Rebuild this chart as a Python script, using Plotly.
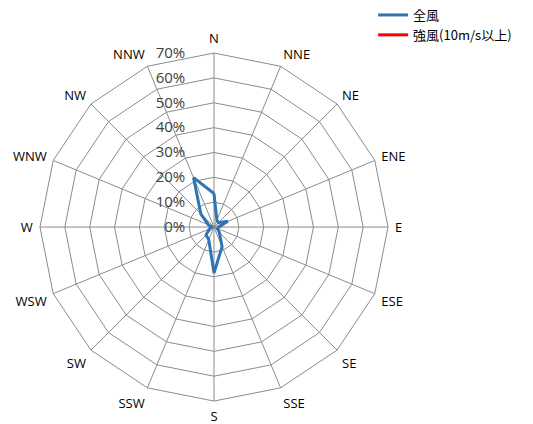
import plotly.graph_objects as go

# 16-point compass directions, clockwise from north
directions = ["N", "NNE", "NE", "ENE", "E", "ESE", "SE", "SSE",
              "S", "SSW", "SW", "WSW", "W", "WNW", "NW", "NNW"]

# Frequency of occurrence (%) per direction
all_wind = [13.5, 3.0, 2.5, 6.0, 2.0, 1.5, 3.0, 8.5,
            18.5, 5.5, 4.5, 2.0, 1.0, 2.5, 7.5, 21.5]
strong_wind = [0, 0, 0, 0, 0, 0, 0, 0,
               0, 0, 0, 0, 0, 0, 0, 0]

radial_ticks = [0, 10, 20, 30, 40, 50, 60, 70]
radial_labels = ["0%", "10%", "20%", "30%", "40%", "50%", "60%", "70%"]

def closed(values):
    return list(values) + [values[0]]

theta = closed(directions)

fig = go.Figure()
fig.add_trace(go.Scatterpolar(
    r=closed(strong_wind), theta=theta, mode="lines",
    name="強風(10m/s以上)", line=dict(color="#ff0000", width=3),
))
fig.add_trace(go.Scatterpolar(
    r=closed(all_wind), theta=theta, mode="lines",
    name="全風", line=dict(color="#2e75b6", width=3),
))

grid_color = "#8c8c8c"
fig.update_layout(
    width=533, height=424,
    margin=dict(l=0, r=0, t=0, b=0),
    paper_bgcolor="white",
    font=dict(family="Open Sans, Noto Sans CJK JP", color="#000000"),
    polar=dict(
        domain=dict(x=[0.075, 0.728], y=[0.054, 0.875]),
        bgcolor="white",
        gridshape="linear",
        angularaxis=dict(
            direction="clockwise", rotation=90,
            categoryorder="array", categoryarray=directions,
            showline=True, linecolor=grid_color, linewidth=1,
            gridcolor=grid_color, gridwidth=1,
            ticks="outside", ticklen=4, tickcolor="rgba(0,0,0,0)",
            tickfont=dict(size=13, color="#000000"),
        ),
        radialaxis=dict(
            range=[0, 70], tickvals=radial_ticks, ticktext=radial_labels,
            angle=90, side="counterclockwise", tickangle=90,
            showline=False, ticks="outside", ticklen=23,
            tickcolor="rgba(0,0,0,0)",
            gridcolor=grid_color, gridwidth=1,
            tickfont=dict(size=15, color="#404040"),
        ),
    ),
    legend=dict(
        x=0.70, y=1.0, xanchor="left", yanchor="top",
        traceorder="reversed",
        font=dict(size=13, family="Noto Sans CJK JP", color="#000000"),
        bgcolor="rgba(0,0,0,0)",
    ),
)

fig.write_html("out.html")
